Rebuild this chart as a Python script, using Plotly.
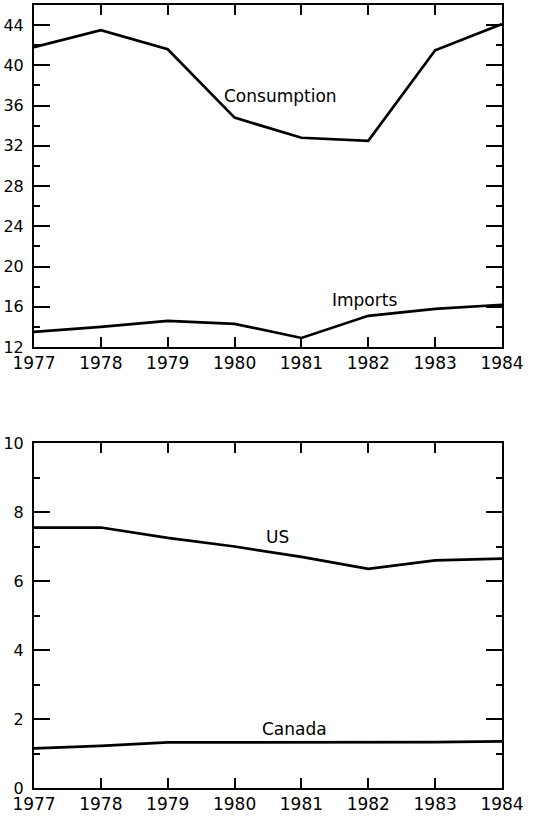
import plotly.graph_objects as go

years = [1977, 1978, 1979, 1980, 1981, 1982, 1983, 1984]
consumption = [41.8, 43.5, 41.6, 34.8, 32.8, 32.5, 41.5, 44.1]
imports = [13.5, 14.0, 14.6, 14.3, 12.9, 15.1, 15.8, 16.2]
us = [7.55, 7.55, 7.25, 7.0, 6.7, 6.35, 6.6, 6.65]
canada = [1.15, 1.22, 1.32, 1.32, 1.33, 1.32, 1.33, 1.35]

top_yticks = [12, 16, 20, 24, 28, 32, 36, 40, 44]
bottom_yticks = [0, 2, 4, 6, 8, 10]

FONT = "DejaVu Sans"
line = dict(color="black", width=2.7)

fig = go.Figure()
fig.add_trace(go.Scatter(x=years, y=consumption, mode="lines", line=line, xaxis="x", yaxis="y"))
fig.add_trace(go.Scatter(x=years, y=imports, mode="lines", line=line, xaxis="x", yaxis="y"))
fig.add_trace(go.Scatter(x=years, y=us, mode="lines", line=line, xaxis="x2", yaxis="y2"))
fig.add_trace(go.Scatter(x=years, y=canada, mode="lines", line=line, xaxis="x2", yaxis="y2"))

xcommon = dict(range=[1977, 1984], tickvals=years, ticks="inside", ticklen=10, tickwidth=2,
               tickcolor="black", showline=True, linewidth=2, linecolor="black", mirror="ticks",
               showgrid=False, zeroline=False, automargin=False, ticklabelstandoff=0,
               tickfont=dict(family=FONT, size=17, color="black"))
ycommon = dict(ticks="inside", ticklen=16, tickwidth=2, tickcolor="black", showline=True,
               linewidth=2, linecolor="black", mirror="ticks", showgrid=False, zeroline=False,
               automargin=False, tickfont=dict(family=FONT, size=16, color="black"),
               ticklabelstandoff=5)

fig.update_layout(
    width=545, height=816,
    margin=dict(l=34, r=43, t=5, b=28),
    paper_bgcolor="white", plot_bgcolor="white",
    showlegend=False,
    xaxis=dict(xcommon, domain=[0, 1], anchor="y"),
    yaxis=dict(ycommon, domain=[0.5632, 1], range=[12, 46], tickvals=top_yticks,
               minor=dict(dtick=2, tick0=0, ticks="inside", ticklen=6, tickwidth=2, tickcolor="black"),
               anchor="x"),
    xaxis2=dict(xcommon, domain=[0, 1], anchor="y2"),
    yaxis2=dict(ycommon, domain=[0, 0.4406], range=[0, 10], tickvals=bottom_yticks,
                minor=dict(dtick=1, tick0=0, ticks="inside", ticklen=6, tickwidth=2, tickcolor="black"),
                anchor="x2"),
)

ann_font = dict(family=FONT, size=17, color="black")
fig.add_annotation(x=1980.68, y=37.0, xref="x", yref="y", text="Consumption", showarrow=False, font=ann_font)
fig.add_annotation(x=1981.94, y=16.7, xref="x", yref="y", text="Imports", showarrow=False, font=ann_font)
fig.add_annotation(x=1980.64, y=7.29, xref="x2", yref="y2", text="US", showarrow=False, font=ann_font)
fig.add_annotation(x=1980.9, y=1.7, xref="x2", yref="y2", text="Canada", showarrow=False, font=ann_font)

fig.write_html("out.html", config={"displayModeBar": False},
               post_script="document.body.style.margin='0px';")
